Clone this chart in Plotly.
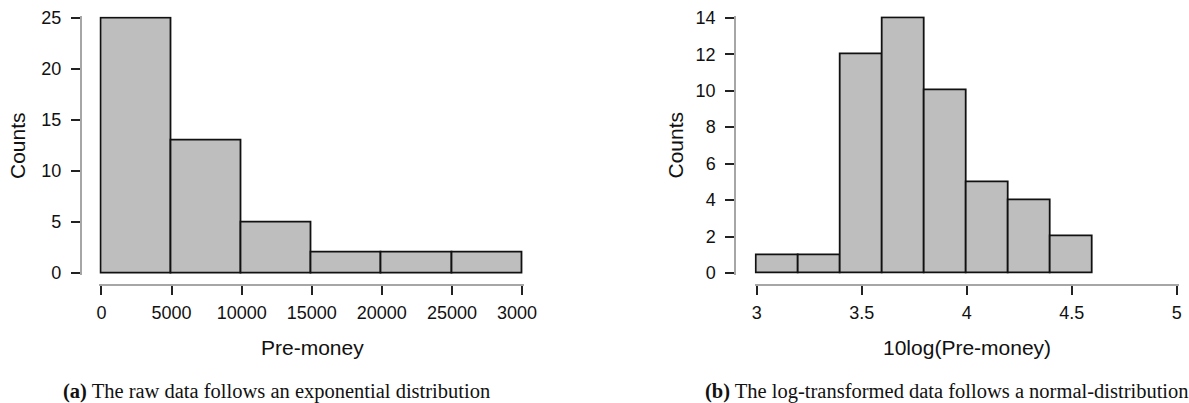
import plotly.graph_objects as go

# Histogram of raw pre-money valuations
raw_edges = [0, 5000, 10000, 15000, 20000, 25000, 30000]
raw_counts = [25, 13, 5, 2, 2, 2]
raw_xticks = [0, 5000, 10000, 15000, 20000, 25000, 30000]
raw_xticklabels = ["0", "5000", "10000", "15000", "20000", "25000", "30000"]
raw_yticks = [0, 5, 10, 15, 20, 25]

# Histogram of log10-transformed pre-money valuations
log_edges = [3.0, 3.2, 3.4, 3.6, 3.8, 4.0, 4.2, 4.4, 4.6]
log_counts = [1, 1, 12, 14, 10, 5, 4, 2]
log_xticks = [3, 3.5, 4, 4.5, 5]
log_xticklabels = ["3", "3.5", "4", "4.5", "5"]
log_yticks = [0, 2, 4, 6, 8, 10, 12, 14]

captions = [
    "<b>(a)</b> The raw data follows an exponential distribution",
    "<b>(b)</b> The log-transformed data follows a normal-distribution",
]
x_titles = ["Pre-money", "10log(Pre-money)"]
y_title = "Counts"

W, H = 1189, 403
BAR_FILL = "#bebebe"
AXIS_GRAY = "#a6a6a6"
TICK_DARK = "#222222"
SANS = "Liberation Sans, Arial, sans-serif"
SERIF = "Liberation Serif, Times New Roman, serif"


def px_x(p):
    return p / W


def px_y(p):
    return 1 - p / H


def centers(edges):
    return [(a + b) / 2 for a, b in zip(edges[:-1], edges[1:])]


def widths(edges):
    return [b - a for a, b in zip(edges[:-1], edges[1:])]


fig = go.Figure()

fig.add_trace(go.Bar(
    x=centers(raw_edges), y=raw_counts, width=widths(raw_edges),
    marker=dict(color=BAR_FILL, line=dict(color="#111111", width=1.8)),
    xaxis="x", yaxis="y", hoverinfo="x+y", showlegend=False,
))
fig.add_trace(go.Bar(
    x=centers(log_edges), y=log_counts, width=widths(log_edges),
    marker=dict(color=BAR_FILL, line=dict(color="#111111", width=1.8)),
    xaxis="x2", yaxis="y2", hoverinfo="x+y", showlegend=False,
))


def panel_axes(x0_px, x1_px, xr, y0_px, y1_px, yr, xline_px, yline_px):
    """Map data range xr/yr to pixel spans with a little padding so the
    bar outlines are not clipped, and offset the axis lines R-style."""
    xpad = (xr[1] - xr[0]) * 0.005
    ypad = (yr[1] - yr[0]) * 0.006
    sx = (x1_px - x0_px) / (xr[1] - xr[0])
    sy = (y0_px - y1_px) / (yr[1] - yr[0])
    xd = [px_x(x0_px - xpad * sx), px_x(x1_px + xpad * sx)]
    yd = [px_y(y0_px + ypad * sy), px_y(y1_px - ypad * sy)]
    return (dict(range=[xr[0] - xpad, xr[1] + xpad], domain=xd),
            dict(range=[yr[0] - ypad, yr[1] + ypad], domain=yd),
            px_y(xline_px), px_x(yline_px))


common_axis = dict(
    showgrid=False, zeroline=False, showline=True, linecolor=AXIS_GRAY,
    linewidth=1.5, ticks="outside", ticklen=9, tickwidth=1.5,
    tickcolor=TICK_DARK, tickfont=dict(family=SANS, size=18, color="#111111"),
    fixedrange=True, automargin=False,
)

# left panel: x 0..30000 -> 101.5..522 px, y 0..25 -> 273..18 px
ax1, ay1, xpos1, ypos1 = panel_axes(101.5, 522, [0, 30000], 273, 18, [0, 25], 285, 80.7)
# right panel: x 3..5 -> 756.7..1176.7 px, y 0..14 -> 273..17.8 px
ax2, ay2, xpos2, ypos2 = panel_axes(756.7, 1176.7, [3, 5], 273, 17.8, [0, 14], 285, 735)

fig.update_layout(
    template="none",
    width=W, height=H,
    margin=dict(l=0, r=0, t=0, b=0, pad=0),
    paper_bgcolor="white", plot_bgcolor="white",
    bargap=0,
    xaxis=dict(**common_axis, **ax1, anchor="free", position=xpos1,
               tickvals=raw_xticks, ticktext=raw_xticklabels, ticklabelstandoff=3),
    yaxis=dict(**common_axis, **ay1, anchor="free", position=ypos1,
               tickvals=raw_yticks, ticklabelstandoff=6),
    xaxis2=dict(**common_axis, **ax2, anchor="free", position=xpos2,
                tickvals=log_xticks, ticktext=log_xticklabels, ticklabelstandoff=3),
    yaxis2=dict(**common_axis, **ay2, anchor="free", position=ypos2,
                tickvals=log_yticks, ticklabelstandoff=6),
)

annotations = []
# y-axis titles
for xc, yc in [(17.5, 145.5), (675, 145.5)]:
    annotations.append(dict(
        text=y_title, x=px_x(xc), y=px_y(yc), xref="paper", yref="paper",
        textangle=-90, showarrow=False, xanchor="center", yanchor="middle",
        font=dict(family=SANS, size=21, color="#111111"),
    ))
# x-axis titles
for txt, xc in zip(x_titles, [312, 967]):
    annotations.append(dict(
        text=txt, x=px_x(xc), y=px_y(347), xref="paper", yref="paper",
        showarrow=False, xanchor="center", yanchor="middle",
        font=dict(family=SANS, size=21, color="#111111"),
    ))
# sub-figure captions, centred under each panel
for txt, xc in zip(captions, [276, 947]):
    annotations.append(dict(
        text=txt, x=px_x(xc), y=px_y(391), xref="paper", yref="paper",
        showarrow=False, xanchor="center", yanchor="middle",
        font=dict(family=SERIF, size=20.5, color="#111111"),
    ))
fig.update_layout(annotations=annotations)

# the left sub-figure frame ends just past its last tick label
fig.add_shape(type="rect", xref="paper", yref="paper",
              x0=px_x(537), x1=px_x(600), y0=px_y(325), y1=px_y(296),
              fillcolor="white", line=dict(width=0), layer="above")

fig.write_html("out.html")
